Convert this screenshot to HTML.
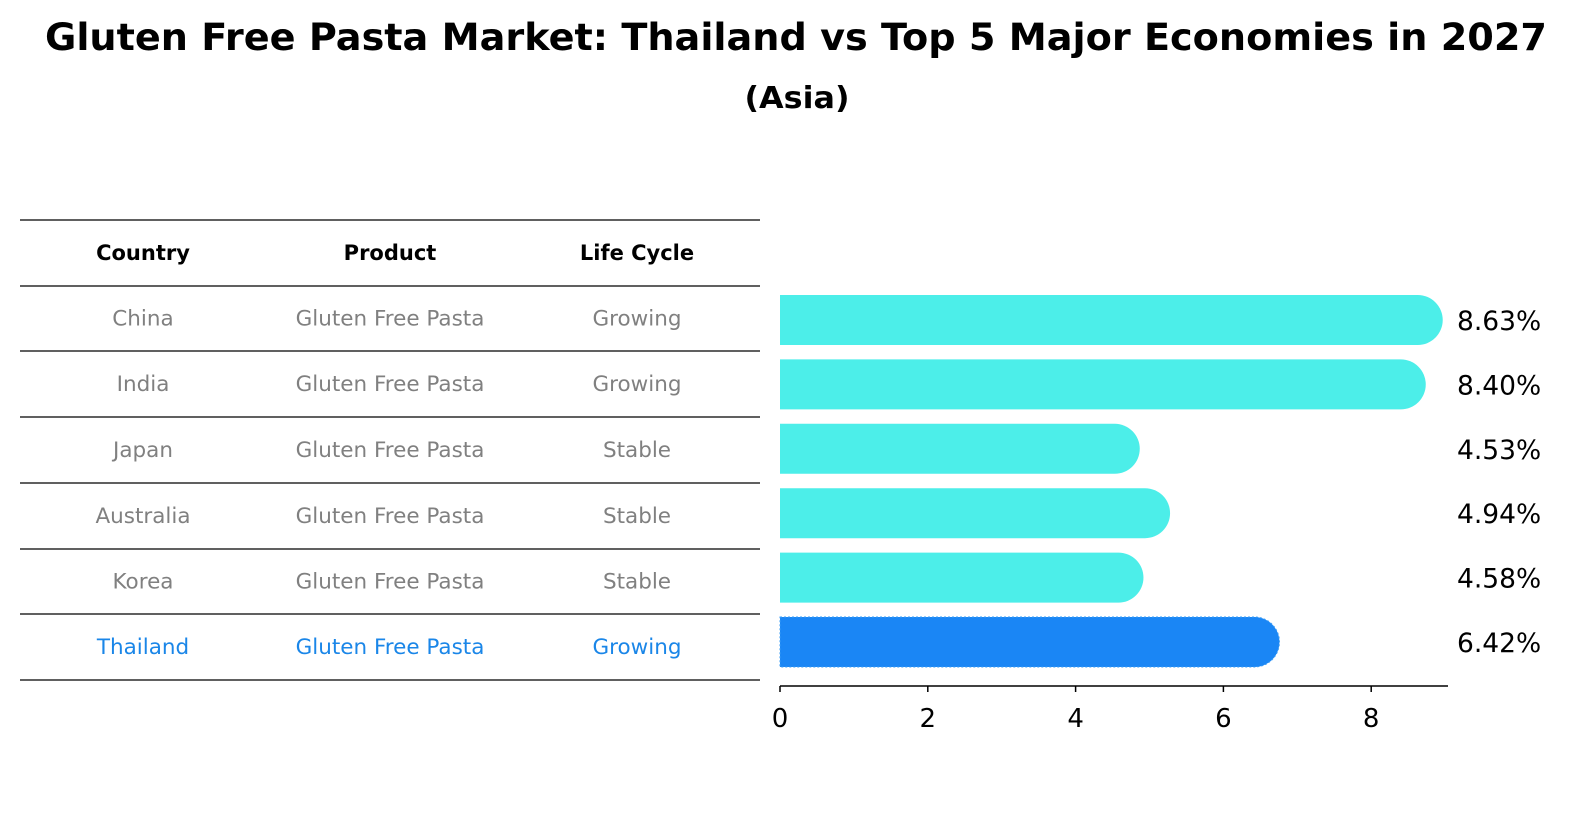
<!DOCTYPE html>
<html><head><meta charset="utf-8"><style>
html,body{margin:0;padding:0;background:#fff;overflow:hidden;width:1591px;height:823px;}
svg{display:block;}
</style></head><body>
<svg width="1591" height="823" xmlns="http://www.w3.org/2000/svg" font-family="DejaVu Sans, Liberation Sans, sans-serif">
<text x="796" y="50" text-anchor="middle" font-size="37" font-weight="bold" textLength="1502" lengthAdjust="spacingAndGlyphs">Gluten Free Pasta Market: Thailand vs Top 5 Major Economies in 2027</text>
<text x="797" y="108" text-anchor="middle" font-size="30" font-weight="bold" textLength="105" lengthAdjust="spacingAndGlyphs">(Asia)</text>
<g id="table"></g>
<g id="bars"></g>
</svg>
<script>
const countries=["China","India","Japan","Australia","Korea","Thailand"];
const products=["Gluten Free Pasta","Gluten Free Pasta","Gluten Free Pasta","Gluten Free Pasta","Gluten Free Pasta","Gluten Free Pasta"];
const lifeCycles=["Growing","Growing","Stable","Stable","Stable","Growing"];
const values=[8.63,8.40,4.53,4.94,4.58,6.42];
const ticks=[0,2,4,6,8];
const NS="http://www.w3.org/2000/svg";
function mk(t,a,p){const e=document.createElementNS(NS,t);for(const k in a)e.setAttribute(k,a[k]);p.appendChild(e);return e;}
const tbl=document.getElementById('table'),bars=document.getElementById('bars');
const rowY=[220,286,351,417,483,549,614,680];
const colX=[143,390,637];
for(let i=0;i<rowY.length;i++){const l=mk('line',{x1:20,x2:760,y1:rowY[i],y2:rowY[i],stroke:'#000','stroke-width':1.2},tbl);

}
["Country","Product","Life Cycle"].forEach((h,j)=>{const t=mk('text',{x:colX[j],y:260,'text-anchor':'middle','font-size':21,'font-weight':'bold'},tbl);t.textContent=h;

});
const xs=v=>780+v*73.9;
const bh=50;
countries.forEach((c,i)=>{
 const cy=(rowY[i+1]+rowY[i+2])/2;
 const col=i===5?'#1a86e8':'#808080';
 [c,products[i],lifeCycles[i]].forEach((s,j)=>{const t=mk('text',{x:colX[j],y:cy+7,'text-anchor':'middle','font-size':21.5,fill:col},tbl);t.textContent=s;
 
 });
 const by=320+i*64.4;
 const fill=i===5?'#1a86f5':'#4ceee9';
 const w=xs(values[i])-780;
 const p=mk('path',{d:`M780 ${by-bh/2} h${w} a${bh/2} ${bh/2} 0 0 1 0 ${bh} h${-w} Z`,fill:fill},bars);
 if(i===5){p.setAttribute('stroke','#3a9df5');p.setAttribute('stroke-dasharray','2 2');}
 
 
 const t=mk('text',{x:1457,y:by+10,'font-size':26.5},bars);t.textContent=values[i].toFixed(2)+'%';
 
 
});
const ax=mk('line',{x1:780,x2:1448,y1:686,y2:686,stroke:'#000','stroke-width':1.5},bars);


ticks.forEach(v=>{const l=mk('line',{x1:xs(v),x2:xs(v),y1:686,y2:692,stroke:'#000','stroke-width':1.5},bars);


const t=mk('text',{x:xs(v),y:727,'text-anchor':'middle','font-size':26},bars);t.textContent=v;

});
</script>
</body></html>
